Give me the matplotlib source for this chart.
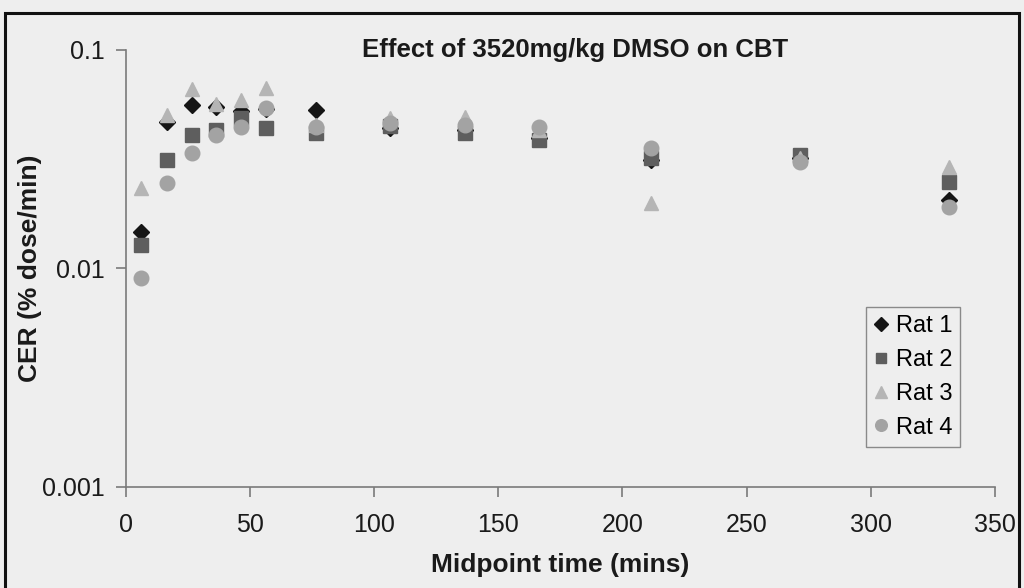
import matplotlib
matplotlib.use('Agg')
import matplotlib.pyplot as plt
from matplotlib.patches import Rectangle
from matplotlib.ticker import NullLocator

# ---- data ----
times = [6, 16.5, 26.5, 36.5, 46.5, 56.5, 76.5, 106.5, 136.5, 166.5, 211.5, 271.5, 331.5]
rat1 = [0.0147, 0.0468, 0.0557, 0.0546, 0.0525, 0.0536, 0.0529, 0.0438, 0.0429, 0.0394, 0.0313, 0.0319, 0.0205]
rat2 = [0.0128, 0.0313, 0.0407, 0.0429, 0.0486, 0.0436, 0.0414, 0.0447, 0.0414, 0.0386, 0.0319, 0.0329, 0.0249]
rat3 = [0.0233, 0.0502, 0.0658, 0.0563, 0.0588, 0.0665, 0.0450, 0.0486, 0.0493, 0.0430, 0.0199, 0.0320, 0.0291]
rat4 = [0.0090, 0.0245, 0.0336, 0.0407, 0.0444, 0.0538, 0.0444, 0.0461, 0.0452, 0.0444, 0.0353, 0.0307, 0.0191]
series_names = ["Rat 1", "Rat 2", "Rat 3", "Rat 4"]
x_ticks = [0, 50, 100, 150, 200, 250, 300, 350]
y_ticks = [0.001, 0.01, 0.1]
y_tick_labels = ["0.001", "0.01", "0.1"]
title = "Effect of 3520mg/kg DMSO on CBT"
xlabel = "Midpoint time (mins)"
ylabel = "CER (% dose/min)"

plt.rcParams['font.family'] = ['Liberation Sans', 'DejaVu Sans']

BG = '#eeeeee'
fig = plt.figure(figsize=(10.24, 5.88), dpi=100, facecolor=BG)
ax = fig.add_axes([125.7 / 1024, 1 - 487 / 588, (995 - 125.7) / 1024, (487 - 49.5) / 588])
ax.set_facecolor('none')

styles = [
    dict(marker='D', color='#151515', ms=8.5),
    dict(marker='s', color='#5e5e5e', ms=9.5),
    dict(marker='^', color='#b5b5b5', ms=10.5),
    dict(marker='o', color='#a3a3a3', ms=10.5),
]
for name, vals, st in zip(series_names, [rat1, rat2, rat3, rat4], styles):
    ax.plot(times, vals, linestyle='none', marker=st['marker'], color=st['color'],
            markeredgecolor=st['color'], markersize=st['ms'], label=name, zorder=3)

ax.set_yscale('log')
ax.set_ylim(0.001, 0.1)
ax.set_xlim(0, 350)
ax.set_yticks(y_ticks)
ax.set_yticklabels(y_tick_labels)
ax.yaxis.set_minor_locator(NullLocator())
ax.set_xticks(x_ticks)

for s in ['top', 'right']:
    ax.spines[s].set_visible(False)
for s in ['left', 'bottom']:
    ax.spines[s].set_color('#7a7a7a')
    ax.spines[s].set_linewidth(1.2)
ax.tick_params(axis='both', direction='out', length=7, width=1.2, color='#7a7a7a',
               labelsize=18, labelcolor='#1a1a1a')
ax.tick_params(axis='x', pad=12)
ax.tick_params(axis='y', pad=8)

ax.set_xlabel(xlabel, fontsize=19, fontweight='bold', color='#1a1a1a')
ax.xaxis.set_label_coords(0.5, -(565 - 487) / 437.5)
ax.xaxis.label.set_va('center')
ax.set_ylabel(ylabel, fontsize=19, fontweight='bold', color='#1a1a1a')
ax.yaxis.set_label_coords(-(125.7 - 30) / 869.3, 0.5)
ax.yaxis.label.set_va('center')
fig.text(575 / 1024, 1 - 50 / 588, title, fontsize=18.5, fontweight='bold',
         color='#1a1a1a', ha='center', va='center')

leg = ax.legend(loc='upper left', bbox_to_anchor=(866 / 1024, 1 - 307 / 588),
                bbox_transform=fig.transFigure, borderaxespad=0, fontsize=17,
                frameon=True, fancybox=False, edgecolor='#8a8a8a', facecolor=BG,
                framealpha=1, handlelength=0.6, handletextpad=0.3, labelspacing=0.5,
                borderpad=0.35, markerscale=0.8)
leg.get_frame().set_linewidth(1.0)

# page frame of the scan
fig.patches.append(Rectangle((5 / 1024, -0.05), 1014 / 1024, 1.05 - 13 / 588,
                             transform=fig.transFigure, fill=False,
                             edgecolor='#111111', linewidth=2.2))

fig.savefig('out.png', dpi=100, facecolor=BG)
